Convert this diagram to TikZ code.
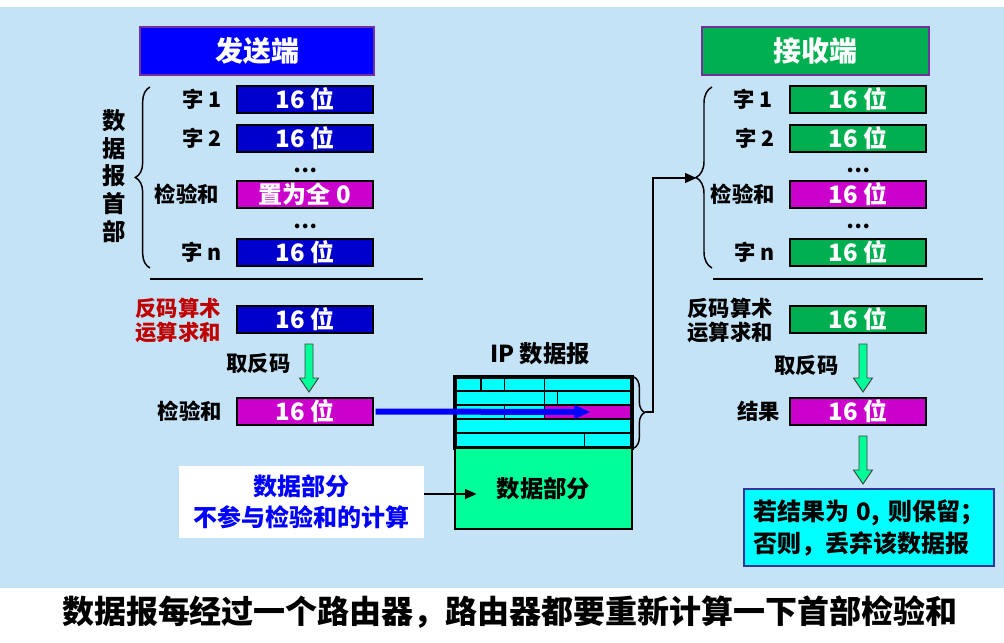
\documentclass[tikz,border=0pt]{standalone}
\usepackage{fontspec}
\setmainfont{Noto Sans CJK SC}
\usetikzlibrary{arrows.meta,decorations.pathreplacing,calc}
\definecolor{bgblue}{RGB}{197,227,247}
\definecolor{hdrblue}{RGB}{0,0,255}
\definecolor{hdrgreen}{RGB}{0,176,80}
\definecolor{hdrborder}{RGB}{112,48,160}
\definecolor{fieldblue}{RGB}{0,0,204}
\definecolor{fieldmag}{RGB}{204,0,204}
\definecolor{fieldgreen}{RGB}{0,176,80}
\definecolor{redtxt}{RGB}{192,0,0}
\definecolor{springg}{RGB}{0,255,153}
\definecolor{ipcyan}{RGB}{0,255,255}
\definecolor{resborder}{RGB}{51,51,153}
\definecolor{arrowedge}{RGB}{64,64,64}
\tikzset{
  field/.style={draw=black, line width=0.9pt, minimum width=102pt, minimum height=20.25pt,
    inner sep=0pt, text=white, font=\bfseries\fontsize{18}{20}\selectfont},
  fblue/.style={field, fill=fieldblue},
  fmag/.style={field, fill=fieldmag},
  fgreen/.style={field, fill=fieldgreen},
  lbl/.style={inner sep=0pt, font=\bfseries\fontsize{16}{18}\selectfont},
  header/.style={draw=hdrborder, line width=0.8pt, minimum height=36pt, inner sep=0pt,
    text=white, font=\bfseries\fontsize{21}{24}\selectfont},
  dotsl/.style={inner sep=0pt, font=\bfseries\fontsize{16}{18}\selectfont},
  rule/.style={line width=1.9pt},
  bracestyle/.style={line width=1.1pt, decorate, decoration={brace, amplitude=#1}},
  conn/.style={line width=2.2pt, -{Triangle[length=9pt,width=7pt]}},
  pics/garrow/.style={code={
    \draw[fill=springg, draw=arrowedge, line width=0.7pt]
      (-4,0) -- (-4,34) -- (-9.5,34) -- (0,48) -- (9.5,34) -- (4,34) -- (4,0) -- cycle;}}
}
\begin{document}
\begin{tikzpicture}[x=0.75pt,y=-0.75pt]
\useasboundingbox (0,0) rectangle (1004,643);
\fill[white] (0,0) rectangle (1004,643);
\fill[bgblue] (0,7) rectangle (1004,588);

% headers
\node[header, fill=hdrblue, minimum width=175.5pt] (sendhdr) at (257,51) {发送端};
\node[header, fill=hdrgreen, minimum width=170.25pt] (recvhdr) at (815.5,51) {接收端};

% sender fields
\node[fblue] (s1) at (305,99.5) {16 位};
\node[fblue] (s2) at (305,138.5) {16 位};
\node[dotsl] (sd1) at (305,170) {…};
\node[fmag] (sck) at (305,194.5) {置为全 0};
\node[dotsl] (sd2) at (305,226) {…};
\node[fblue] (sn) at (305,252.5) {16 位};
\node[lbl, anchor=east] (ls1) at (222,99.5) {字 1};
\node[lbl, anchor=east] (ls2) at (222,138.5) {字 2};
\node[lbl, anchor=east] (lsck) at (219,194.5) {检验和};
\node[lbl, anchor=east] (lsn) at (222,252.5) {字 n};
\node[lbl, align=center, font=\bfseries\fontsize{17.5}{20.7}\selectfont] (hdrtxt) at (114,176)
  {数\\据\\报\\首\\部};
\draw[bracestyle=11pt] (150,268) -- (150,87);
\draw[rule] (150,279) -- (423,279);

\node[lbl, text=redtxt, align=center, font=\bfseries\fontsize{16}{18}\selectfont] (lssum) at (178,320)
  {反码算术\\运算求和};
\node[fblue] (ssum) at (305,319.5) {16 位};
\node[lbl] (lsinv) at (258.5,363) {取反码};
\pic at (309,344) {garrow};
\node[lbl, anchor=east] (lsres) at (222,411.5) {检验和};
\node[fmag] (sres) at (305,411.5) {16 位};

% IP datagram
\node[lbl, font=\bfseries\fontsize{17.5}{18}\selectfont] (iplbl) at (540,354) {IP 数据报};
\node[draw=black, fill=ipcyan, line width=0pt, minimum width=132.75pt, minimum height=53.25pt,
  inner sep=0pt] (iphdr) at (543.5,412.5) {};
\fill[fieldmag] (544.3,405) rectangle (632,419);
\begin{scope}[line width=1.2pt]
\foreach \yy in {391,405,419,433} \draw (455,\yy) -- (632,\yy);
\draw (480.7,377) -- (480.7,391);
\draw (504.3,377) -- (504.3,391);
\draw (544.3,377) -- (544.3,405);
\draw (557.3,391) -- (557.3,405);
\draw (504.3,405) -- (504.3,419);
\draw (544.3,405) -- (544.3,419);
\draw (584.3,433) -- (584.3,448);
\end{scope}
\draw[line width=2.3pt] (iphdr.north west) rectangle (iphdr.south east);
\node[draw=black, fill=springg, line width=1.1pt, minimum width=132.75pt, minimum height=60.75pt,
  inner sep=0pt, font=\bfseries\fontsize{17.5}{20}\selectfont] (ipdata) at (543.5,488.5) {数据部分};
\draw[bracestyle=8pt] (634,377) -- (634,448);

% blue arrow checksum -> IP header
\coordinate (cktip) at (591,412);
\draw[draw=hdrblue, line width=4.5pt, -{Triangle[length=12.5pt,width=9.5pt]}] (sres.east) ++(2,0) -- (cktip);

% connector IP header -> receiver
\coordinate (ipb) at (645,412);
\coordinate (rxb) at (697,178);
\draw[conn] (ipb) -- (653,412) |- (rxb);

% white note
\node[fill=white, minimum width=183.75pt, minimum height=54pt, inner sep=0pt, align=center,
  text=hdrblue, font=\bfseries\fontsize{18}{23}\selectfont] (note) at (301.5,502)
  {数据部分\\不参与检验和的计算};
\coordinate (notetip) at (477,494);
\draw[conn] (note.east |- notetip) -- (notetip);

% receiver fields
\node[fgreen] (r1) at (858,99.5) {16 位};
\node[fgreen] (r2) at (858,138.5) {16 位};
\node[dotsl] (rd1) at (858,170) {…};
\node[fmag] (rck) at (858,194.5) {16 位};
\node[dotsl] (rd2) at (858,226) {…};
\node[fgreen] (rn) at (858,252.5) {16 位};
\node[lbl, anchor=east] (lr1) at (773,99.5) {字 1};
\node[lbl, anchor=east] (lr2) at (775,138.5) {字 2};
\node[lbl, anchor=east] (lrck) at (775,194.5) {检验和};
\node[lbl, anchor=east] (lrn) at (775,252.5) {字 n};
\draw[bracestyle=12pt] (712,268) -- (712,87);
\draw[rule] (713,279) -- (983,279);

\node[lbl, align=center] (lrsum) at (730,320) {反码算术\\运算求和};
\node[fgreen] (rsum) at (858,319.5) {16 位};
\node[lbl] (lrinv) at (806.5,365) {取反码};
\pic at (863,344) {garrow};
\node[lbl, anchor=east] (lrres) at (780,411.5) {结果};
\node[fmag] (rres) at (858,411.5) {16 位};
\pic at (863,436) {garrow};

\node[draw=resborder, fill=ipcyan, line width=1.6pt, minimum width=187.5pt, minimum height=57.75pt,
  inner sep=0pt, text width=174pt, align=left, font=\bfseries\fontsize{18}{24}\selectfont]
  (result) at (869,527.5) {若结果为 0, 则保留；\\否则，丢弃该数据报};

% caption
\node[inner sep=0pt, font=\bfseries\fontsize{24}{28}\selectfont] (caption) at (510,612)
  {数据报每经过一个路由器，路由器都要重新计算一下首部检验和};
\end{tikzpicture}
\end{document}
